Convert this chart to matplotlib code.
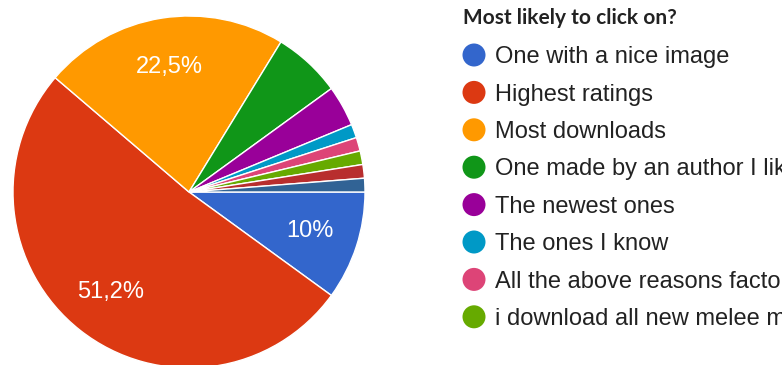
"""Pie chart of survey answers to 'Most likely to click on?'."""

import matplotlib
matplotlib.use('Agg')
import matplotlib.pyplot as plt
from matplotlib.patches import Circle


TITLE = 'Most likely to click on?'
answers = ['One with a nice image', 'Highest ratings', 'Most downloads',
           'One made by an author I like', 'The newest ones',
           'The ones I know', 'All the above reasons factor in',
           'i download all new melee mods', 'Other', 'Depends']
responses = [8, 41, 18, 5, 3, 1, 1, 1, 1, 1]
colors = ['#3366cc', '#dc3912', '#ff9900', '#109618', '#990099',
          '#0099c6', '#dd4477', '#66aa00', '#b82e2e', '#316395']

# only the first page of the legend is visible
LEGEND_ROWS = 8

W, H = 782, 365
TEXT_COLOR = '#222222'


def pct_label(pct):
    """Percent label with a decimal comma, hidden for small slices."""
    if pct < 8:
        return ''
    value = round(pct, 1)
    if value == int(value):
        return '%d%%' % int(value)
    return ('%.1f%%' % value).replace('.', ',')


fig = plt.figure(figsize=(W / 100, H / 100), dpi=100)

# pie placed in pixel units: centre (189, 192), radius 176
cx, cy, r = 189, 192, 176
ax = fig.add_axes([(cx - r) / W, (H - cy - r) / H, 2 * r / W, 2 * r / H])
wedges, texts, autotexts = ax.pie(
    responses, colors=colors, startangle=0, counterclock=False,
    autopct=pct_label, pctdistance=0.72, radius=1,
    wedgeprops={'edgecolor': 'white', 'linewidth': 1.0},
    textprops={'color': 'white', 'fontsize': 17,
               'family': 'Liberation Sans'})
ax.set_xlim(-1, 1)
ax.set_ylim(-1, 1)
ax.set_aspect('equal')
ax.axis('off')

# legend drawn on an overlay in pixel coordinates
lax = fig.add_axes([0, 0, 1, 1])
lax.set_xlim(0, W)
lax.set_ylim(H, 0)
lax.axis('off')
lax.text(463, 18, TITLE, fontsize=15, fontweight='bold', family='Lato',
         color=TEXT_COLOR, va='center', ha='left')

y0, dy = 55, 37.4
for i in range(LEGEND_ROWS):
    y = y0 + i * dy
    lax.add_patch(Circle((474, y), 11.5, facecolor=colors[i],
                         edgecolor='none'))
    lax.text(495, y + 8.3, answers[i], fontsize=17, family='Liberation Sans',
             color=TEXT_COLOR, va='baseline', ha='left')

fig.savefig('out.png', dpi=100)
